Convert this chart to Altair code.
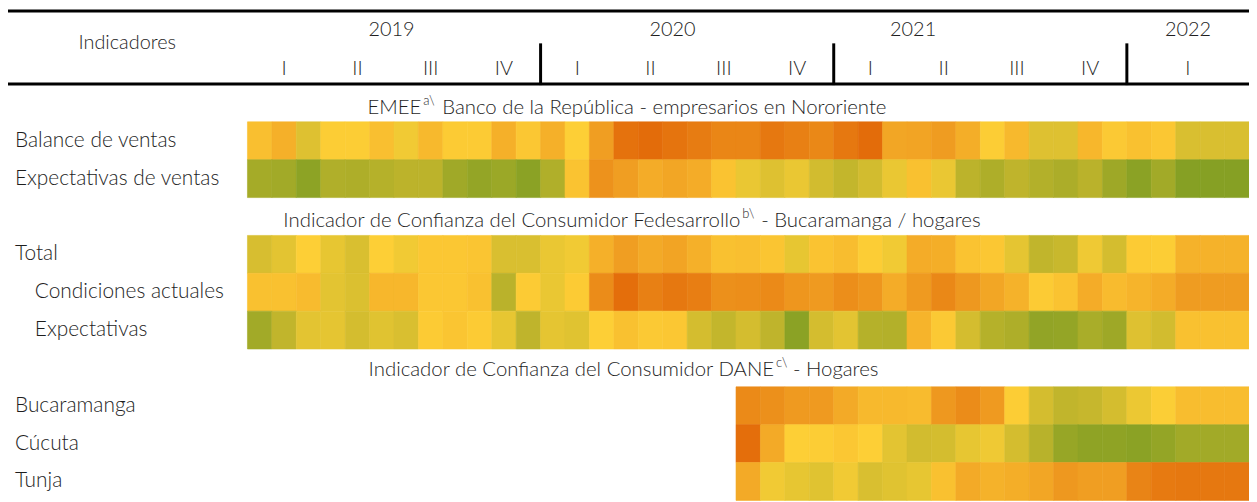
import altair as alt
import pandas as pd

# ---------------- data ----------------
years = ["2019", "2020", "2021", "2022"]
year_label_pos = [5.9, 17.4, 27.25, 38.5]      # month position of each year label
year_breaks = [12, 24, 36]                      # separators between years
quarters = ["I", "II", "III", "IV"] * 3 + ["I"]
quarter_pos = [1.5 + 3 * i for i in range(12)] + [38.5]
n_months = 41                                   # Jan-2019 .. May-2022

rows = ["Balance de ventas", "Expectativas de ventas", "Total",
        "Condiciones actuales", "Expectativas", "Bucaramanga", "Cúcuta", "Tunja"]
row_slot = [0, 1, 3, 4, 5, 7, 8, 9]
row_indent = [0, 0, 0, 1, 1, 0, 0, 0]
row_start = [0, 0, 0, 0, 0, 20, 20, 20]

# colour score 0 (weak, orange) .. 100 (strong, green)
balance = [42, 34, 63, 49, 49, 42, 55, 39, 48, 48, 34, 46, 34, 50, 25, 3, 0, 4, 8, 13,
           13, 6, 10, 14, 6, 0, 29, 28, 24, 33, 49, 39, 63, 63, 38, 47, 43, 46, 65, 65, 65]
exp_ventas = [87, 88, 97, 82, 83, 80, 77, 77, 89, 94, 91, 98, 82, 44, 19, 25, 32, 29, 32, 44,
              58, 63, 58, 68, 74, 68, 58, 43, 58, 77, 83, 76, 81, 84, 78, 90, 98, 88, 100, 100, 100]
total = [66, 61, 50, 59, 65, 50, 55, 46, 46, 45, 65, 65, 58, 55, 34, 25, 31, 28, 34, 43,
         42, 45, 59, 44, 41, 49, 55, 32, 33, 44, 46, 60, 75, 72, 56, 67, 48, 49, 35, 35, 35]
condiciones = [43, 43, 40, 61, 64, 38, 38, 46, 46, 43, 78, 48, 58, 48, 16, 1, 10, 6, 9, 18,
               17, 15, 21, 23, 17, 21, 32, 23, 14, 22, 29, 35, 48, 44, 32, 40, 36, 32, 24, 24, 24]
expectativas = [88, 75, 61, 60, 67, 62, 65, 48, 45, 48, 59, 76, 60, 62, 50, 43, 47, 46, 67, 74,
                67, 76, 98, 67, 61, 80, 81, 36, 47, 67, 80, 83, 95, 94, 85, 90, 63, 68, 43, 43, 43]
bucaramanga = [15, 18, 23, 23, 31, 39, 39, 40, 22, 16, 23, 49, 67, 75, 73, 67, 57, 51, 41, 41, 41]
cucuta = [1, 31, 50, 49, 46, 50, 61, 68, 67, 59, 56, 67, 79, 93, 96, 96, 98, 94, 88, 88, 88]
tunja = [31, 55, 59, 62, 55, 65, 62, 59, 43, 31, 35, 33, 29, 22, 25, 25, 12, 7, 6, 6, 6]
series = [balance, exp_ventas, total, condiciones, expectativas, bucaramanga, cucuta, tunja]

sec_main = ["EMEE", "Indicador de Confianza del Consumidor Fedesarrollo",
            "Indicador de Confianza del Consumidor DANE"]
sec_sup = ["a\\", "b\\", "c\\"]
sec_rest = ["Banco de la República - empresarios en Nororiente",
            "- Bucaramanga / hogares", "- Hogares"]

# ---------------- layout ----------------
FONT = "Lato"
TXT = "#1e1e1e"
W, H = 1249, 494
X0, X1 = 241, 1249
Y0, Y1 = 113, 494

xs = alt.Scale(domain=[0, n_months], range=[X0, X1], nice=False, zero=False)
ys = alt.Scale(domain=[0, 10], range=[Y0, Y1], nice=False, zero=False)

recs = []
for name, slot, start, vals in zip(rows, row_slot, row_start, series):
    for k, v in enumerate(vals):
        m = start + k
        recs.append({"row": name, "m0": m, "m1": m + 1, "s0": slot, "s1": slot + 1, "v": v})
df = pd.DataFrame(recs)

cscale = alt.Scale(domain=[0, 25, 50, 75, 100],
                   range=["#e36c0a", "#f09e22", "#fdcf36", "#c1b52c", "#86a024"],
                   interpolate="rgb")

cells = alt.Chart(df).mark_rect(strokeWidth=0.6).encode(
    x=alt.X("m0:Q", scale=xs, axis=None),
    x2="m1:Q",
    y=alt.Y("s0:Q", scale=ys, axis=None),
    y2="s1:Q",
    color=alt.Color("v:Q", scale=cscale, legend=None),
    stroke=alt.Stroke("v:Q", scale=cscale, legend=None),
)


def tstyle(size):
    return dict(font=FONT, fontSize=size, fontWeight=300, color=TXT, baseline="middle")


lab_df = pd.DataFrame({"row": rows, "yc": [s + 0.5 for s in row_slot], "ind": row_indent})
labels0 = alt.Chart(lab_df).transform_filter("datum.ind == 0").mark_text(
    align="left", **tstyle(21)).encode(
    x=alt.value(7), y=alt.Y("yc:Q", scale=ys, axis=None), text="row:N")
labels1 = alt.Chart(lab_df).transform_filter("datum.ind == 1").mark_text(
    align="left", **tstyle(21)).encode(
    x=alt.value(27), y=alt.Y("yc:Q", scale=ys, axis=None), text="row:N")

yr_df = pd.DataFrame({"year": years, "pos": year_label_pos})
yr_text = alt.Chart(yr_df).mark_text(align="center", **tstyle(20)).encode(
    x=alt.X("pos:Q", scale=xs, axis=None), y=alt.value(21), text="year:N")
q_df = pd.DataFrame({"q": quarters, "pos": quarter_pos})
q_text = alt.Chart(q_df).mark_text(align="center", **tstyle(20)).encode(
    x=alt.X("pos:Q", scale=xs, axis=None), y=alt.value(60), text="q:N")

br_df = pd.DataFrame({"b": year_breaks})
breaks = alt.Chart(br_df).mark_rule(color="#000000", strokeWidth=3).encode(
    x=alt.X("b:Q", scale=xs, axis=None), y=alt.value(34), y2=alt.value(76))

one = pd.DataFrame({"k": [0]})
top_line = alt.Chart(one).mark_rule(color="#000000", strokeWidth=3).encode(
    x=alt.value(0), x2=alt.value(W), y=alt.value(1.5))
hdr_line = alt.Chart(one).mark_rule(color="#000000", strokeWidth=3).encode(
    x=alt.value(0), x2=alt.value(W), y=alt.value(75))
ind_text = alt.Chart(pd.DataFrame({"t": ["Indicadores"]})).mark_text(
    align="center", **tstyle(20)).encode(x=alt.value(120), y=alt.value(34), text="t:N")

# section titles: main text (right aligned), superscript, rest (left aligned)
sec_anchor = [(416, 418, 437, 99), (737, 739, 758, 213), (771, 773, 790, 363)]
sec_layers = []
for main, sup, rest, (xm, xsup, xr, yy) in zip(sec_main, sec_sup, sec_rest, sec_anchor):
    d = pd.DataFrame({"a": [main], "b": [sup], "c": [rest]})
    base = alt.Chart(d)
    sec_layers.append(base.mark_text(align="right", **tstyle(20.5)).encode(
        x=alt.value(xm), y=alt.value(yy), text="a:N"))
    sec_layers.append(base.mark_text(align="left", **tstyle(13)).encode(
        x=alt.value(xsup), y=alt.value(yy - 7), text="b:N"))
    sec_layers.append(base.mark_text(align="left", **tstyle(20.5)).encode(
        x=alt.value(xr), y=alt.value(yy), text="c:N"))

chart = alt.layer(
    cells, labels0, labels1, yr_text, q_text, breaks, top_line, hdr_line, ind_text, *sec_layers
).properties(
    width=W, height=H, padding=0, autosize=alt.AutoSizeParams(type="none")
).configure_view(stroke=None)

chart.save("out.html", embed_options={"renderer": "svg", "actions": False})
